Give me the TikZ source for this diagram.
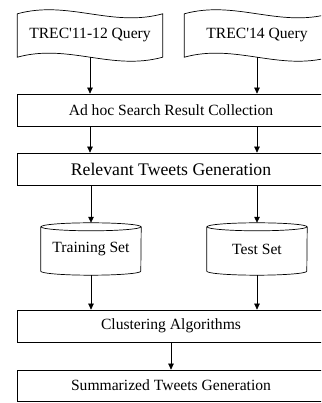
\documentclass[tikz,border=0pt]{standalone}
\usepackage{fontspec}
\setmainfont{Liberation Serif}
\usetikzlibrary{arrows.meta,calc}
\tikzset{
  base/.style={line width=0.7pt},
  procbox/.style={base,draw,rectangle,minimum width=308pt,minimum height=32pt,inner sep=0pt,font=\fontsize{15.6}{18}\selectfont},
  bigbox/.style={procbox,font=\fontsize{17.7}{20}\selectfont},
  tapebox/.style={rectangle,minimum width=145pt,minimum height=43pt,inner sep=0pt,font=\fontsize{15.6}{18}\selectfont},
  cylbox/.style={rectangle,minimum width=100pt,minimum height=52pt,inner sep=0pt,font=\fontsize{15.6}{18}\selectfont},
  flow/.style={base,-{Triangle[length=6pt,width=5.5pt]}}
}
\newcommand\wavetape[1]{%
  \draw[base,fill=white] (#1.north west) .. controls +(51,14) and +(-51,-14) .. (#1.north east)
    -- (#1.south east) .. controls +(-51,-14) and +(51,14) .. (#1.south west) -- cycle;}
\newcommand\drumshape[1]{%
  \draw[base] ($(#1.north)+(0,-4)$) ellipse [x radius=50, y radius=4];
  \draw[base] ($(#1.north west)+(0,-4)$) -- ($(#1.south west)+(0,4)$)
    arc[start angle=180, end angle=360, x radius=50, y radius=4]
    -- ($(#1.north east)+(0,-4)$);}
\begin{document}
\begin{tikzpicture}[x=1pt,y=1pt]
\clip (0,0) rectangle (321,403);
\fill[white] (0,0) rectangle (321,403);
% tapes
\node[tapebox] (q1) at (90,367.5) {};
\node[tapebox] (q2) at (257,367.5) {};
\wavetape{q1}
\wavetape{q2}
\node[font=\fontsize{15.6}{18}\selectfont] (t1) at (q1) {TREC\textquotesingle11-12 Query};
\node[font=\fontsize{15.6}{18}\selectfont] (t2) at (q2) {TREC\textquotesingle14 Query};
% boxes
\node[procbox] (b1) at (171,293) {Ad hoc Search Result Collection};
\node[bigbox] (b2) at (171,234) {Relevant Tweets Generation};
\node[procbox] (b3) at (171,77) {Clustering Algorithms};
\node[procbox,minimum height=31pt] (b4) at (171,17.5) {Summarized Tweets Generation};
% cylinders
\node[cylbox] (c1) at (91,154) {};
\node[cylbox] (c2) at (257,154) {};
\drumshape{c1}
\drumshape{c2}
\node[font=\fontsize{15.6}{18}\selectfont] (ct1) at (91,154) {Training Set};
\node[font=\fontsize{15.6}{18}\selectfont] (ct2) at (257,154) {Test Set};
% arrows
\draw[flow] (q1.south) -- (q1.south |- b1.north);
\draw[flow] (q2.south) -- (q2.south |- b1.north);
\draw[flow] (q1.south |- b1.south) -- (q1.south |- b2.north);
\draw[flow] (q2.south |- b1.south) -- (q2.south |- b2.north);
\draw[flow] (c1.north |- b2.south) -- (c1.north);
\draw[flow] (c2.north |- b2.south) -- (c2.north);
\draw[flow] (c1.south) -- (c1.south |- b3.north);
\draw[flow] (c2.south) -- (c2.south |- b3.north);
\draw[flow] (b3.south) -- (b4.north);
\end{tikzpicture}
\end{document}
